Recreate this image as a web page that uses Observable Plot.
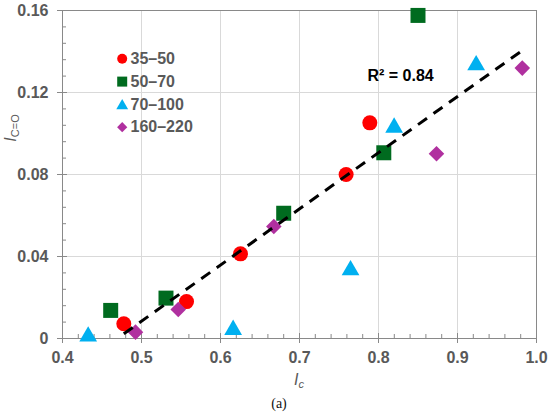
<!DOCTYPE html>
<html>
<head>
<meta charset="utf-8">
<script src="https://cdn.jsdelivr.net/npm/d3@7"></script>
<script src="https://cdn.jsdelivr.net/npm/@observablehq/plot@0.6"></script>
<style>
  body { margin: 0; background: #fff; }
  #chart { width: 550px; height: 414px; }
</style>
</head>
<body>
<div id="chart"></div>
<script>
// ---- data ----
const xTicks = [0.4, 0.5, 0.6, 0.7, 0.8, 0.9, 1.0];
const xTickLabels = ["0.4", "0.5", "0.6", "0.7", "0.8", "0.9", "1.0"];
const xMinor = [0.42, 0.44, 0.46, 0.48, 0.52, 0.54, 0.56, 0.58, 0.62, 0.64, 0.66, 0.68,
                0.72, 0.74, 0.76, 0.78, 0.82, 0.84, 0.86, 0.88, 0.92, 0.94, 0.96, 0.98];
const yTicks = [0, 0.04, 0.08, 0.12, 0.16];
const yTickLabels = ["0", "0.04", "0.08", "0.12", "0.16"];
const yMinor = [0.008, 0.016, 0.024, 0.032, 0.048, 0.056, 0.064, 0.072,
                0.088, 0.096, 0.104, 0.112, 0.128, 0.136, 0.144, 0.152];

const seriesNames = ["35–50", "50–70", "70–100", "160–220"];
const seriesColors = ["#ff0000", "#006b1f", "#00b0f0", "#b0309f"];
const seriesSymbols = ["circle", "square", "triangle", "diamond2"];

const x3550 = [0.4776, 0.557, 0.6253, 0.759, 0.789];
const y3550 = [0.0072, 0.018, 0.0413, 0.080, 0.1052];
const x5070 = [0.461, 0.531, 0.680, 0.8067, 0.850];
const y5070 = [0.0137, 0.0197, 0.0611, 0.0906, 0.1576];
const x70100 = [0.4325, 0.616, 0.7646, 0.8198, 0.9236];
const y70100 = [0.002, 0.0052, 0.0343, 0.1039, 0.1343];
const x160220 = [0.4924, 0.5465, 0.6675, 0.8734, 0.982];
const y160220 = [0.0031, 0.0141, 0.0546, 0.0901, 0.1319];

const trendX = [0.4776, 0.982];
const trendY = [0.0023, 0.1405];
const r2Label = "R² = 0.84";

// ---- build ----
const seriesX = [x3550, x5070, x70100, x160220];
const seriesY = [y3550, y5070, y70100, y160220];
const pointR = [7.5, 8.46, 6.6, 7.0];
const legendR = [5, 5.64, 4.4, 4.6];
const symDy = [0, 0, 2, 0];

const pts = seriesX.map((xs, i) => xs.map((x, j) => ({x, y: seriesY[i][j]})));
const trend = trendX.map((x, i) => ({x, y: trendY[i]}));

const W = 550, H = 414, mL = 62, mR = 14, mT = 10, mB = 76;
const pw = W - mL - mR, ph = H - mT - mB;
const axisCol = "#898989";
const textCol = "#595959";

const marks = [
  Plot.gridX(xTicks, {stroke: "#d9d9d9", strokeOpacity: 1}),
  Plot.gridY(yTicks, {stroke: "#d9d9d9", strokeOpacity: 1}),
  Plot.frame({stroke: axisCol}),
  Plot.tickX(xTicks, {x: d => d, insetTop: ph - 5, insetBottom: -5, stroke: axisCol}),
  Plot.tickX(xMinor, {x: d => d, insetTop: ph - 4, stroke: axisCol}),
  Plot.tickY(yTicks, {y: d => d, insetRight: pw - 5, insetLeft: -5, stroke: axisCol}),
  Plot.tickY(yMinor, {y: d => d, insetRight: pw - 4, stroke: axisCol}),
  Plot.axisX(xTicks, {tickSize: 0, tickPadding: 13, tickFormat: (d, i) => xTickLabels[i],
    label: null, fill: textCol, fontSize: 16, fontWeight: "bold"}),
  Plot.axisY(yTicks, {tickSize: 0, tickPadding: 14, tickFormat: (d, i) => yTickLabels[i],
    label: null, fill: textCol, fontSize: 16, fontWeight: "bold"})
];

pts.forEach((data, i) => {
  marks.push(Plot.dot(data, {x: "x", y: "y", r: pointR[i], symbol: seriesSymbols[i],
    fill: seriesColors[i], stroke: "none", dy: symDy[i]}));
});

marks.push(Plot.line(trend, {x: "x", y: "y", stroke: "#000", strokeWidth: 3,
  strokeDasharray: "11,8", strokeLinecap: "butt"}));

// legend
seriesNames.forEach((name, i) => {
  marks.push(Plot.dot([0], {frameAnchor: "top-left", dx: 59.7, dy: 48.3 + i * 22.8 + symDy[i] * 0.7,
    r: legendR[i], symbol: seriesSymbols[i], fill: seriesColors[i], stroke: "none"}));
  marks.push(Plot.text([name], {frameAnchor: "top-left", dx: 68, dy: 48.3 + i * 22.8,
    text: d => d, textAnchor: "start", lineAnchor: "middle",
    fontSize: 16, fontWeight: "bold", fill: textCol}));
});

marks.push(Plot.text([r2Label], {frameAnchor: "top-left", dx: 305, dy: 65, text: d => d,
  textAnchor: "start", lineAnchor: "middle", fontSize: 16, fontWeight: "bold", fill: "#000"}));

const svg = Plot.plot({
  width: W, height: H,
  marginLeft: mL, marginRight: mR, marginTop: mT, marginBottom: mB,
  x: {domain: [0.4, 1.0], axis: null},
  y: {domain: [0, 0.16], axis: null},
  style: {fontFamily: "'Liberation Sans', Arial, sans-serif", background: "#fff", overflow: "visible"},
  marks
});

// axis titles with subscripts, caption
const s = d3.select(svg);
const yt = s.append("text")
  .attr("transform", "translate(16,128) rotate(-90)")
  .attr("text-anchor", "middle")
  .attr("fill", textCol)
  .attr("font-family", "'Liberation Sans', Arial, sans-serif")
  .attr("font-size", 16);
yt.append("tspan").attr("font-style", "italic").text("I");
yt.append("tspan").attr("font-size", 11).attr("dy", 3).text("C=O");

const xt = s.append("text")
  .attr("x", 299).attr("y", 385)
  .attr("text-anchor", "middle")
  .attr("fill", textCol)
  .attr("font-family", "'Liberation Sans', Arial, sans-serif")
  .attr("font-style", "italic")
  .attr("font-size", 16);
xt.append("tspan").text("I");
xt.append("tspan").attr("font-size", 11).attr("dy", 3).text("c");

s.append("text")
  .attr("x", 279).attr("y", 408)
  .attr("text-anchor", "middle")
  .attr("fill", "#111")
  .attr("font-family", "'Liberation Serif', 'Times New Roman', serif")
  .attr("font-size", 14)
  .text("(a)");

document.getElementById("chart").appendChild(svg);
</script>
</body>
</html>
